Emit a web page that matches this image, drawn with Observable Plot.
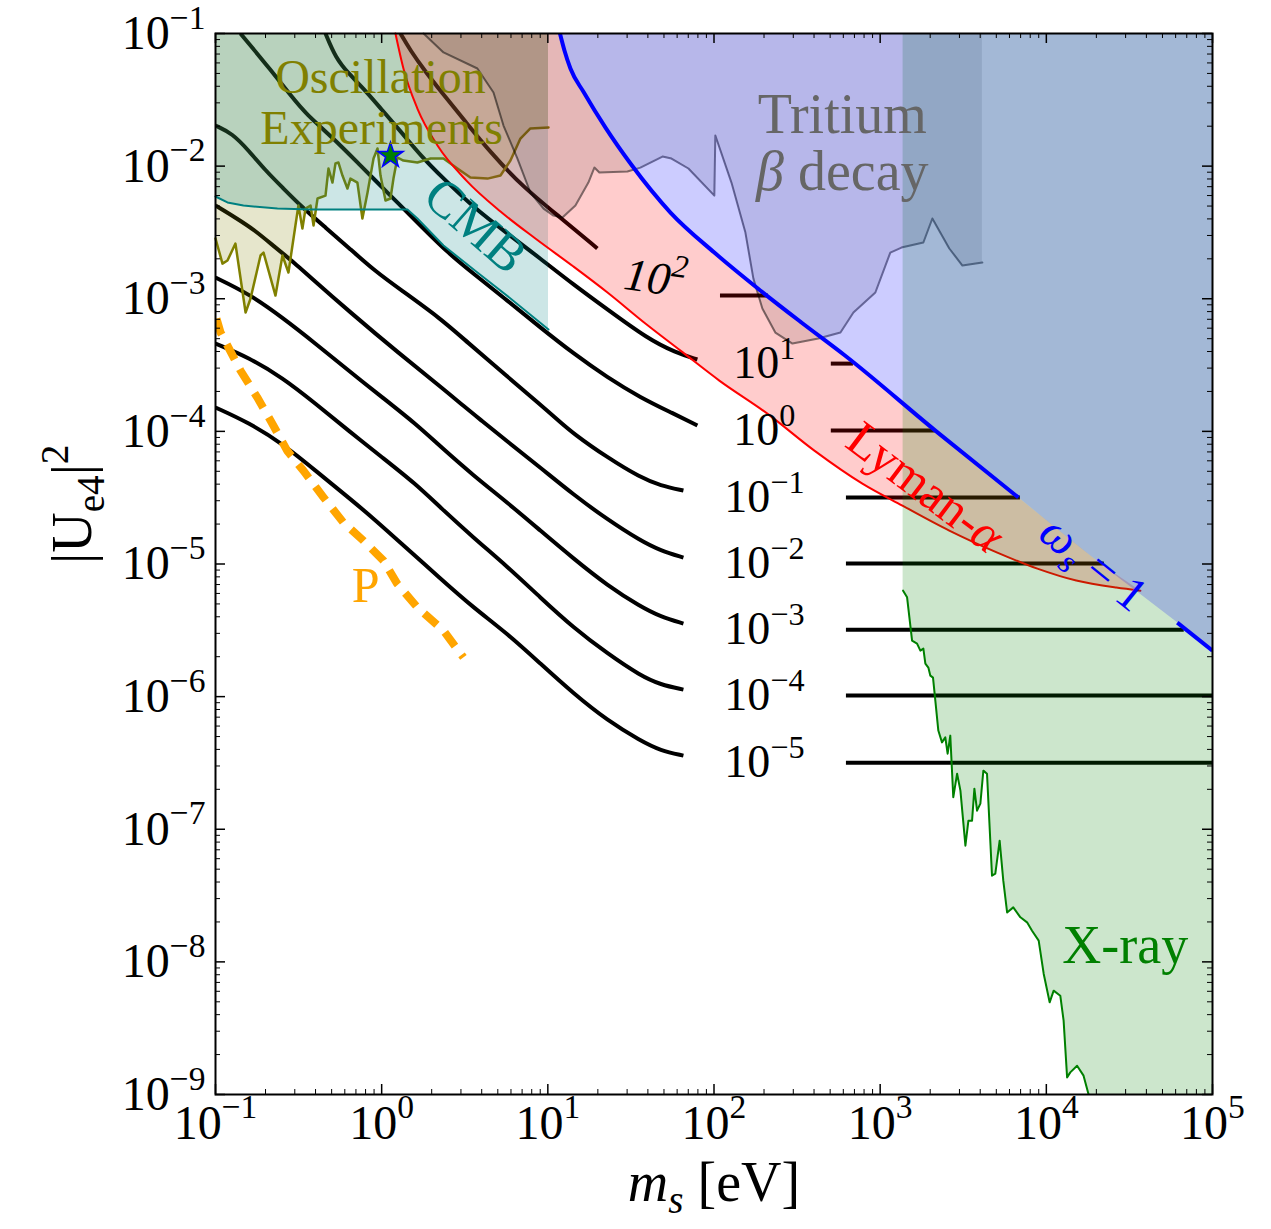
<!DOCTYPE html>
<html>
<head>
<meta charset="utf-8">
<script src="https://cdn.jsdelivr.net/npm/d3@7"></script>
<script src="https://cdn.jsdelivr.net/npm/@observablehq/plot@0.6"></script>
<style>
  html, body { margin: 0; padding: 0; background: #fff; }
  svg { display: block; }
</style>
</head>
<body>
<div id="chart"></div>
<script>
// ---------- DATA (all pairs are [log10(m_s / eV), log10(|U_e4|^2)]) ----------
const xMajor = [1e-1, 1e0, 1e1, 1e2, 1e3, 1e4, 1e5];
const yMajor = [1e-9, 1e-8, 1e-7, 1e-6, 1e-5, 1e-4, 1e-3, 1e-2, 1e-1];

// relic-abundance contours (label exponent -> curve)
const curveM5 = [[-1.000,-3.820],[-0.801,-3.934],[-0.597,-4.092],[-0.398,-4.296],[-0.200,-4.499],[-0.055,-4.650],[0.113,-4.839],[0.354,-5.110],[0.552,-5.329],[0.757,-5.525],[0.955,-5.751],[1.154,-5.977],[1.359,-6.181],[1.557,-6.332],[1.678,-6.407],[1.816,-6.445]];
const curveM4 = [[-1.000,-3.338],[-0.801,-3.443],[-0.597,-3.594],[-0.398,-3.790],[-0.200,-3.994],[0.005,-4.198],[0.203,-4.394],[0.354,-4.575],[0.552,-4.801],[0.757,-5.020],[0.955,-5.253],[1.154,-5.480],[1.359,-5.676],[1.557,-5.842],[1.678,-5.910],[1.816,-5.947]];
const curveM3 = [[-1.000,-2.840],[-0.801,-2.961],[-0.597,-3.142],[-0.398,-3.338],[-0.200,-3.541],[0.005,-3.745],[0.203,-3.941],[0.354,-4.115],[0.552,-4.333],[0.757,-4.537],[0.955,-4.748],[1.154,-4.959],[1.359,-5.163],[1.557,-5.321],[1.678,-5.397],[1.816,-5.449]];
const curveM2 = [[-1.000,-2.297],[-0.880,-2.388],[-0.760,-2.486],[-0.640,-2.614],[-0.519,-2.735],[-0.441,-2.825],[-0.188,-3.104],[0.113,-3.421],[0.354,-3.662],[0.504,-3.820],[0.594,-3.911],[0.757,-4.077],[0.955,-4.273],[1.154,-4.477],[1.359,-4.665],[1.557,-4.824],[1.678,-4.899],[1.816,-4.952]];
const curveM1 = [[-1.000,-1.694],[-0.898,-1.754],[-0.801,-1.882],[-0.699,-2.033],[-0.597,-2.161],[-0.477,-2.312],[-0.338,-2.463],[-0.200,-2.614],[-0.037,-2.795],[0.113,-2.931],[0.354,-3.149],[0.504,-3.315],[0.757,-3.587],[0.955,-3.798],[1.058,-3.911],[1.154,-4.017],[1.359,-4.198],[1.557,-4.348],[1.678,-4.409],[1.816,-4.446]];
const curveP0 = [[-0.850,-1.000],[-0.699,-1.226],[-0.537,-1.483],[-0.458,-1.603],[-0.296,-1.784],[-0.140,-1.980],[0.041,-2.207],[0.203,-2.410],[0.402,-2.659],[0.552,-2.810],[0.757,-3.014],[0.955,-3.217],[1.154,-3.413],[1.359,-3.594],[1.557,-3.745],[1.756,-3.866],[1.900,-3.956]];
const curveP1 = [[-0.338,-1.000],[-0.278,-1.181],[-0.200,-1.302],[-0.097,-1.430],[0.005,-1.581],[0.125,-1.754],[0.245,-1.935],[0.366,-2.086],[0.552,-2.312],[0.757,-2.508],[0.955,-2.697],[1.154,-2.893],[1.359,-3.081],[1.599,-3.300],[1.768,-3.406],[1.900,-3.458]];
const curveP2 = [[0.113,-1.000],[0.173,-1.128],[0.258,-1.279],[0.366,-1.452],[0.504,-1.664],[0.655,-1.897],[0.853,-2.161],[1.076,-2.388],[1.298,-2.621]];

// high-mass horizontal parts of the contours
const omegaLabels = ["10^{2}", "10^{1}", "10^{0}", "10^{−1}", "10^{−2}", "10^{−3}", "10^{−4}", "10^{−5}"];
const segStart = [2.039, 2.706, 2.706, 2.797, 2.797, 2.797, 2.797, 2.797];
const segEnd   = [2.327, 2.839, 3.332, 3.844, 4.349, 4.830, 5.000, 5.000];
const segLevel = [-2.976, -3.489, -3.994, -4.499, -4.997, -5.495, -5.992, -6.498];
const omegaLabelM = [1.647, 2.303, 2.303, 2.303, 2.303, 2.303, 2.303, 2.303];
const omegaLabelU = [-2.848, -3.489, -3.994, -4.499, -4.997, -5.495, -5.992, -6.498];

// oscillation experiments boundary
const oscLine = [[-1.000,-2.546],[-0.958,-2.735],[-0.928,-2.712],[-0.880,-2.584],[-0.819,-3.104],[-0.789,-2.998],[-0.729,-2.674],[-0.711,-2.652],[-0.639,-2.976],[-0.597,-2.674],[-0.561,-2.802],[-0.519,-2.448],[-0.501,-2.297],[-0.477,-2.471],[-0.458,-2.320],[-0.428,-2.297],[-0.410,-2.448],[-0.386,-2.244],[-0.338,-2.222],[-0.320,-2.018],[-0.296,-2.124],[-0.278,-1.980],[-0.260,-1.973],[-0.236,-2.071],[-0.206,-2.169],[-0.188,-2.094],[-0.146,-2.124],[-0.116,-2.395],[-0.085,-2.199],[-0.049,-1.943],[-0.025,-1.867],[-0.007,-2.071],[0.023,-2.259],[0.053,-2.244],[0.071,-2.094],[0.095,-1.935],[0.131,-1.958],[0.215,-1.973],[0.294,-1.943],[0.372,-1.943],[0.456,-2.018],[0.534,-2.086],[0.637,-2.094],[0.715,-2.071],[0.775,-1.958],[0.835,-1.792],[0.895,-1.716],[1.004,-1.709]];
const starPoint = [[0.053, -1.920]];

// CMB boundary
const cmbLine = [[-1.000,-2.229],[-0.928,-2.274],[-0.832,-2.297],[-0.627,-2.320],[-0.428,-2.327],[0.155,-2.327],[0.215,-2.395],[0.372,-2.599],[0.576,-2.802],[0.775,-2.998],[1.004,-3.232]];

// Lyman-alpha boundary
const lymanLine = [[0.083,-1.000],[0.131,-1.264],[0.215,-1.566],[0.336,-1.845],[0.510,-2.109],[0.715,-2.342],[0.925,-2.546],[1.154,-2.757],[1.359,-2.953],[1.587,-3.187],[1.798,-3.391],[2.032,-3.617],[2.321,-3.866],[2.604,-4.145],[2.893,-4.394],[3.134,-4.560],[3.416,-4.748],[3.705,-4.914],[3.946,-5.035],[4.180,-5.125],[4.421,-5.178],[4.566,-5.201]];

// omega_s = 1 boundary
const omegaOne = [[1.073,-1.000],[1.100,-1.128],[1.136,-1.264],[1.217,-1.445],[1.347,-1.710],[1.503,-1.990],[1.738,-2.350],[2.002,-2.652],[2.264,-2.923],[2.526,-3.179],[2.788,-3.428],[3.332,-3.994],[3.832,-4.499],[4.325,-4.997],[4.788,-5.442],[5.000,-5.653]];

// Tritium beta decay boundary
const tritLine = [[0.252,-1.000],[0.372,-1.143],[0.576,-1.264],[0.673,-1.445],[0.733,-1.694],[0.817,-1.943],[0.895,-2.199],[0.974,-2.320],[1.034,-2.373],[1.088,-2.388],[1.166,-2.297],[1.244,-2.124],[1.280,-2.011],[1.310,-2.048],[1.479,-2.041],[1.557,-2.011],[1.690,-1.928],[1.744,-1.943],[1.846,-2.018],[2.002,-2.222],[2.008,-1.769],[2.105,-2.124],[2.189,-2.501],[2.237,-2.848],[2.291,-3.074],[2.369,-3.255],[2.472,-3.338],[2.628,-3.300],[2.761,-3.255],[2.839,-3.104],[2.971,-2.953],[3.061,-2.652],[3.128,-2.614],[3.260,-2.576],[3.314,-2.395],[3.416,-2.621],[3.495,-2.750],[3.615,-2.727]];

// X-ray boundary
const xrayLine = [[3.138,-5.201],[3.162,-5.251],[3.192,-5.578],[3.222,-5.600],[3.242,-5.653],[3.260,-5.638],[3.272,-5.751],[3.290,-5.781],[3.302,-5.842],[3.318,-5.857],[3.332,-6.030],[3.350,-6.256],[3.372,-6.345],[3.392,-6.307],[3.406,-6.430],[3.422,-6.294],[3.440,-6.759],[3.463,-6.581],[3.483,-6.709],[3.513,-7.124],[3.531,-6.935],[3.553,-6.935],[3.567,-6.694],[3.583,-6.860],[3.603,-6.807],[3.621,-6.558],[3.643,-6.581],[3.673,-7.350],[3.693,-7.335],[3.719,-7.086],[3.741,-7.388],[3.764,-7.627],[3.801,-7.589],[3.844,-7.664],[3.884,-7.702],[3.914,-7.765],[3.954,-7.840],[3.984,-8.089],[4.020,-8.305],[4.044,-8.217],[4.084,-8.255],[4.104,-8.443],[4.125,-8.871],[4.144,-8.833],[4.185,-8.783],[4.224,-8.858],[4.265,-9.050],[4.300,-9.600],[5.000,-9.600]];

// "P" dashed line
const pLine = [[-0.994,-3.149],[-0.970,-3.253],[-0.850,-3.541],[-0.749,-3.743],[-0.668,-3.919],[-0.569,-4.145],[-0.471,-4.296],[-0.350,-4.497],[-0.230,-4.688],[-0.110,-4.824],[0.011,-4.974],[0.093,-5.148],[0.214,-5.326],[0.372,-5.502],[0.492,-5.704]];

// text labels
const oscText = ["Oscillation", "Experiments"];
const oscPos = [[-0.007,-1.330],[0.000,-1.716]];
const tritText = ["Tritium", "*β* decay"];
const tritPos = [[2.772,-1.618],[2.772,-2.048]];
const cmbPos = [[0.564,-2.448]];
const lymanPos = [[3.272,-4.424]];
const omegaPos = [[4.285,-4.995]];
const xrayPos = [[4.475,-7.878]];
const pPos = [[-0.097,-5.163]];

// ---------- BUILD ----------
const W = 1271, H = 1229, ML = 215, MR = 59, MT = 33, MB = 135;
const PW = W - ML - MR, PH = H - MT - MB;

const rows = arr => arr.map(([a, b]) => ({m: 10 ** a, U: 10 ** b}));
const curves = [["1e-5", curveM5], ["1e-4", curveM4], ["1e-3", curveM3], ["1e-2", curveM2], ["1e-1", curveM1], ["1e0", curveP0], ["1e1", curveP1], ["1e2", curveP2]];
const curveRows = curves.flatMap(([w, pts]) => pts.map(([a, b]) => ({w, m: 10 ** a, U: 10 ** b})));
const segRows = segLevel.map((l, i) => ({m1: 10 ** segStart[i], m2: 10 ** segEnd[i], U: 10 ** l}));
const omegaLabelRows = omegaLabels.map((t, i) => ({t, m: 10 ** omegaLabelM[i], U: 10 ** omegaLabelU[i]}));
const lymanEnd = lymanLine[lymanLine.length - 1][0];
const lymanPoly = lymanLine.concat(omegaOne.filter(p => p[0] < lymanEnd).reverse());
const omegaA = omegaOne.filter(p => p[0] <= 3.9);
const omegaB = omegaOne.filter(p => p[0] >= 4.7);
const labelRows = (texts, pos) => texts.map((t, i) => ({t, m: 10 ** pos[i][0], U: 10 ** pos[i][1]}));
const xMinor = xMajor.slice(0, -1).flatMap(d => [2,3,4,5,6,7,8,9].map(k => d * k));
const yMinor = yMajor.slice(0, -1).flatMap(d => [2,3,4,5,6,7,8,9].map(k => d * k));
const expFmt = d => { const e = Math.round(Math.log10(d)); return "10^{" + (e < 0 ? "−" + (-e) : String(e)) + "}"; };

const chart = Plot.plot({
  width: W, height: H,
  marginLeft: ML, marginRight: MR, marginTop: MT, marginBottom: MB,
  x: {type: "log", domain: [1e-1, 1e5]},
  y: {type: "log", domain: [1e-9, 1e-1]},
  style: {fontFamily: "'Liberation Serif', 'DejaVu Serif', serif", background: "white", overflow: "visible"},
  marks: [
    // abundance contours (under the shaded regions)
    Plot.line(curveRows, {x: "m", y: "U", z: "w", stroke: "black", strokeWidth: 4, curve: "basis", strokeLinecap: "butt", clip: true}),
    Plot.ruleY(segRows, {y: "U", x1: "m1", x2: "m2", stroke: "black", strokeWidth: 4}),
    // oscillation
    Plot.areaY(rows(oscLine), {x: "m", y1: "U", y2: 0.1, fill: "#808000", fillOpacity: 0.2}),
    Plot.line(rows(oscLine), {x: "m", y: "U", stroke: "#808000", strokeWidth: 2.5}),
    // CMB
    Plot.areaY(rows(cmbLine), {x: "m", y1: "U", y2: 0.1, fill: "#008080", fillOpacity: 0.2}),
    Plot.line(rows(cmbLine), {x: "m", y: "U", stroke: "#008080", strokeWidth: 2}),
    // Lyman-alpha
    Plot.line(rows(lymanPoly), {x: "m", y: "U", fill: "red", fillOpacity: 0.2, stroke: "none"}),
    Plot.line(rows(lymanLine), {x: "m", y: "U", stroke: "red", strokeWidth: 2, curve: "monotone-x"}),
    // Tritium
    Plot.areaY(rows(tritLine), {x: "m", y1: "U", y2: 0.1, fill: "black", fillOpacity: 0.1}),
    Plot.line(rows(tritLine), {x: "m", y: "U", stroke: "black", strokeOpacity: 0.5, strokeWidth: 2}),
    // X-ray
    Plot.areaY(rows(xrayLine), {x: "m", y1: "U", y2: 0.1, fill: "green", fillOpacity: 0.2, clip: true}),
    Plot.line(rows(xrayLine), {x: "m", y: "U", stroke: "green", strokeWidth: 2, clip: true}),
    // omega_s = 1 region (drawn over X-ray)
    Plot.areaY(rows(omegaOne), {x: "m", y1: "U", y2: 0.1, fill: "blue", fillOpacity: 0.2, curve: "monotone-x"}),
    // omega_s = 1 line
    Plot.line(rows(omegaA), {x: "m", y: "U", stroke: "blue", strokeWidth: 4, strokeLinecap: "butt", curve: "monotone-x"}),
    Plot.line(rows(omegaB), {x: "m", y: "U", stroke: "blue", strokeWidth: 4, strokeLinecap: "butt", clip: true}),
    // P
    Plot.line(rows(pLine), {x: "m", y: "U", stroke: "orange", strokeWidth: 8, strokeDasharray: "17,11", strokeLinecap: "butt", clip: true}),
    // star
    Plot.dot(rows(starPoint), {x: "m", y: "U", symbol: "star", r: 8, fill: "green", stroke: "blue", strokeWidth: 1.5}),
    // ticks (inside, all four sides)
    Plot.tickX(xMajor, {x: d => d, insetTop: PH - 10, stroke: "black", strokeWidth: 1.5}),
    Plot.tickX(xMajor, {x: d => d, insetBottom: PH - 10, stroke: "black", strokeWidth: 1.5}),
    Plot.tickX(xMinor, {x: d => d, insetTop: PH - 5, stroke: "black", strokeWidth: 1}),
    Plot.tickX(xMinor, {x: d => d, insetBottom: PH - 5, stroke: "black", strokeWidth: 1}),
    Plot.tickY(yMajor, {y: d => d, insetRight: PW - 10, stroke: "black", strokeWidth: 1.5}),
    Plot.tickY(yMajor, {y: d => d, insetLeft: PW - 10, stroke: "black", strokeWidth: 1.5}),
    Plot.tickY(yMinor, {y: d => d, insetRight: PW - 5, stroke: "black", strokeWidth: 1}),
    Plot.tickY(yMinor, {y: d => d, insetLeft: PW - 5, stroke: "black", strokeWidth: 1}),
    Plot.frame({stroke: "black", strokeWidth: 2}),
    // axes
    Plot.axisX(xMajor, {anchor: "bottom", tickSize: 0, tickPadding: 10, fontSize: 48, tickFormat: expFmt, label: null}),
    Plot.axisY(yMajor, {anchor: "left", tickSize: 0, tickPadding: 10, fontSize: 48, tickFormat: expFmt, label: null}),
    Plot.text(["*m*_{*s*} [eV]"], {frameAnchor: "bottom", dy: 106, fontSize: 56, fill: "black"}),
    Plot.text(["|U_{e4}|^{2}"], {frameAnchor: "left", dx: -142, rotate: -90, fontSize: 56, fill: "black"}),
    // contour labels
    Plot.text(omegaLabelRows.slice(0, 1), {x: "m", y: "U", text: d => "*" + d.t + "*", fontSize: 46, rotate: 8, fill: "black"}),
    Plot.text(omegaLabelRows.slice(1), {x: "m", y: "U", text: "t", fontSize: 46, fill: "black"}),
    // region labels
    Plot.text(labelRows(oscText, oscPos), {x: "m", y: "U", text: "t", fontSize: 48, fill: "#808000"}),
    Plot.text(labelRows(["CMB"], cmbPos), {x: "m", y: "U", text: "t", fontSize: 52, fill: "#008080", rotate: 41}),
    Plot.text(labelRows(tritText, tritPos), {x: "m", y: "U", text: "t", fontSize: 56, fill: "#666666"}),
    Plot.text(labelRows(["Lyman-*α*"], lymanPos), {x: "m", y: "U", text: "t", fontSize: 50, fill: "red", rotate: 37}),
    Plot.text(labelRows(["*ω*_{*s*}\u00a0=\u00a01"], omegaPos), {x: "m", y: "U", text: "t", fontSize: 48, fill: "blue", rotate: 39}),
    Plot.text(labelRows(["X-ray"], xrayPos), {x: "m", y: "U", text: "t", fontSize: 54, fill: "green"}),
    Plot.text(labelRows(["P"], pPos), {x: "m", y: "U", text: "t", fontSize: 50, fill: "orange"})
  ]
});

document.getElementById("chart").append(chart);

// ---------- rich text: ^{sup}, _{sub}, *italic* ----------
const NS = "http://www.w3.org/2000/svg";
function richify(el) {
  const s = el.textContent;
  if (!/[\^_*]/.test(s) || el.querySelector("tspan")) return;
  const F = parseFloat(getComputedStyle(el).fontSize) || 16;
  while (el.firstChild) el.removeChild(el.firstChild);
  let italic = false, cur = 0;
  function emit(txt, level) {
    if (!txt) return;
    const t = document.createElementNS(NS, "tspan");
    const target = level === 1 ? -0.42 * F : level === -1 ? 0.22 * F : 0;
    const dy = target - cur;
    if (Math.abs(dy) > 1e-6) t.setAttribute("dy", dy.toFixed(2));
    cur = target;
    if (level) t.setAttribute("font-size", (0.7 * F).toFixed(2));
    if (italic) t.setAttribute("font-style", "italic");
    t.textContent = txt;
    el.appendChild(t);
  }
  let i = 0, buf = "";
  while (i < s.length) {
    const c = s[i];
    if (c === "*") { emit(buf, 0); buf = ""; italic = !italic; i++; }
    else if ((c === "^" || c === "_") && s[i + 1] === "{") {
      emit(buf, 0); buf = "";
      const end = s.indexOf("}", i);
      const inner = s.slice(i + 2, end);
      const lvl = c === "^" ? 1 : -1;
      let b2 = "";
      for (const ch of inner) {
        if (ch === "*") { emit(b2, lvl); b2 = ""; italic = !italic; }
        else b2 += ch;
      }
      emit(b2, lvl);
      i = end + 1;
    } else { buf += c; i++; }
  }
  emit(buf, 0);
}
chart.querySelectorAll("text").forEach(richify);
</script>
</body>
</html>
